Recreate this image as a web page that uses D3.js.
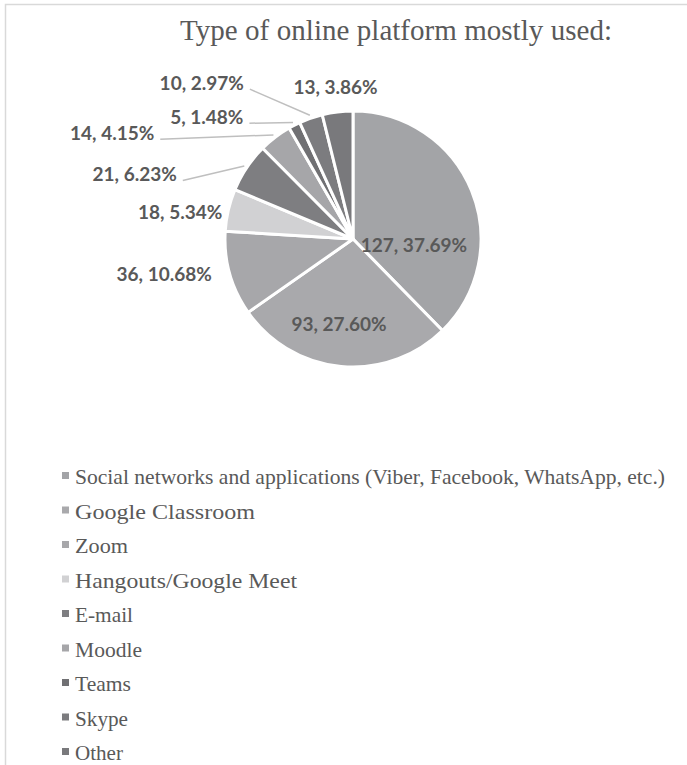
<!DOCTYPE html>
<html>
<head>
<meta charset="utf-8">
<script src="https://cdn.jsdelivr.net/npm/d3@7"></script>
<style>
  html, body { margin: 0; padding: 0; background: #fff; }
  svg { display: block; }
</style>
</head>
<body>
<svg id="chart" width="687" height="765"></svg>
<script>
// ---- data ----
const title = "Type of online platform mostly used:";
const categories = [
  "Social networks and applications (Viber, Facebook, WhatsApp, etc.)",
  "Google Classroom",
  "Zoom",
  "Hangouts/Google Meet",
  "E-mail",
  "Moodle",
  "Teams",
  "Skype",
  "Other"
];
const counts = [127, 93, 36, 18, 21, 14, 5, 10, 13];
const percentLabels = ["37.69%", "27.60%", "10.68%", "5.34%", "6.23%", "4.15%", "1.48%", "2.97%", "3.86%"];

// ---- styles / layout ----
const colors = ["#a3a4a7", "#a9a9ac", "#a7a7aa", "#d1d1d3", "#7e7e81", "#a6a6a9", "#707073", "#7c7c7f", "#79797c"];
const labelMode = ["in", "in", "out", "out", "out", "out", "out", "out", "out"];
const labelDx = [0, 0, -18, -6, -70, -121, -51, -67, -2];
const labelDy = [0, 0, 1, 2, 7, -4, -8, -35, -25];
const labelInR = [0.48, 0.67, 0, 0, 0, 0, 0, 0, 0];
const labelInDx = [4, -6, 0, 0, 0, 0, 0, 0, 0];
const labelInDy = [30, 0, 0, 0, 0, 0, 0, 0, 0];
const leader = [false, false, false, false, true, true, true, true, false];
// legend text widths as rendered in the reference
const legendWidths = [590, 180, 53, 222, 58, 67, 56, 53, 48];

const svg = d3.select("#chart");
const W = 687, H = 765;

// frame
svg.append("path")
  .attr("d", `M5.5,${H} L5.5,4.5 L${W},4.5`)
  .attr("fill", "none").attr("stroke", "#d9d9d9").attr("stroke-width", 1.5);

// title
const titleText = svg.append("text")
  .attr("x", 180).attr("y", 40)
  .attr("font-family", "'Liberation Serif', 'Times New Roman', serif")
  .attr("font-size", 29)
  .attr("fill", "#595959")
  .text(title);
{
  const w = titleText.node().getComputedTextLength();
  const target = 432;
  const gaps = title.split(" ").length - 1;
  if (w < target) titleText.attr("word-spacing", (target - w) / gaps);
  else titleText.attr("textLength", target).attr("lengthAdjust", "spacingAndGlyphs");
}

// pie
const cx = 353, cy = 239, R = 128;
const g = svg.append("g").attr("transform", `translate(${cx},${cy})`);
const pie = d3.pie().sort(null).value(d => d)(counts);
const arc = d3.arc().innerRadius(0).outerRadius(R);

g.selectAll("path.slice")
  .data(pie)
  .join("path")
  .attr("class", "slice")
  .attr("d", arc)
  .attr("fill", (d, i) => colors[i])
  .attr("stroke", "#fff")
  .attr("stroke-width", 3)
  .attr("stroke-linejoin", "round");

const labelFont = "Lato, 'Open Sans', sans-serif";
const labelSize = 19;
pie.forEach((d, i) => {
  const mid = (d.startAngle + d.endAngle) / 2;
  const txt = `${counts[i]}, ${percentLabels[i]}`;
  if (labelMode[i] === "in") {
    const r = R * labelInR[i];
    const x = r * Math.sin(mid) + labelInDx[i];
    const y = -r * Math.cos(mid) + labelInDy[i];
    g.append("text")
      .attr("x", x).attr("y", y)
      .attr("text-anchor", "middle").attr("dy", "0.35em")
      .attr("font-family", labelFont).attr("font-weight", 700)
      .attr("font-size", labelSize).attr("fill", "#595959")
      .text(txt);
  } else {
    const ex = R * Math.sin(mid), ey = -R * Math.cos(mid);
    const lx = ex + labelDx[i], ly = ey + labelDy[i];
    const anchor = (i === counts.length - 1) ? "middle" : "end";
    g.append("text")
      .attr("x", lx).attr("y", ly)
      .attr("text-anchor", anchor).attr("dy", "0.35em")
      .attr("font-family", labelFont).attr("font-weight", 700)
      .attr("font-size", labelSize).attr("fill", "#595959")
      .text(txt);
    if (leader[i]) {
      const R2 = R + 3;
      g.append("line")
        .attr("x1", lx + 6).attr("y1", ly + 6)
        .attr("x2", R2 * Math.sin(mid)).attr("y2", -R2 * Math.cos(mid))
        .attr("stroke", "#bfbfbf").attr("stroke-width", 1.5);
    }
  }
});

// legend
const legendX = 62, legendY0 = 484, legendStep = 34.5;
const lg = svg.append("g");
const items = lg.selectAll("g.item").data(categories).join("g")
  .attr("class", "item")
  .attr("transform", (d, i) => `translate(${legendX},${legendY0 + i * legendStep})`);
items.append("rect")
  .attr("x", 0).attr("y", -12).attr("width", 7).attr("height", 7)
  .attr("fill", (d, i) => colors[i]);
items.append("text")
  .attr("x", 13).attr("y", 0)
  .attr("font-family", "'Liberation Serif', 'Times New Roman', serif")
  .attr("font-size", 22)
  .attr("fill", "#595959")
  .attr("textLength", (d, i) => legendWidths[i])
  .attr("lengthAdjust", "spacingAndGlyphs")
  .text(d => d);
</script>
</body>
</html>
